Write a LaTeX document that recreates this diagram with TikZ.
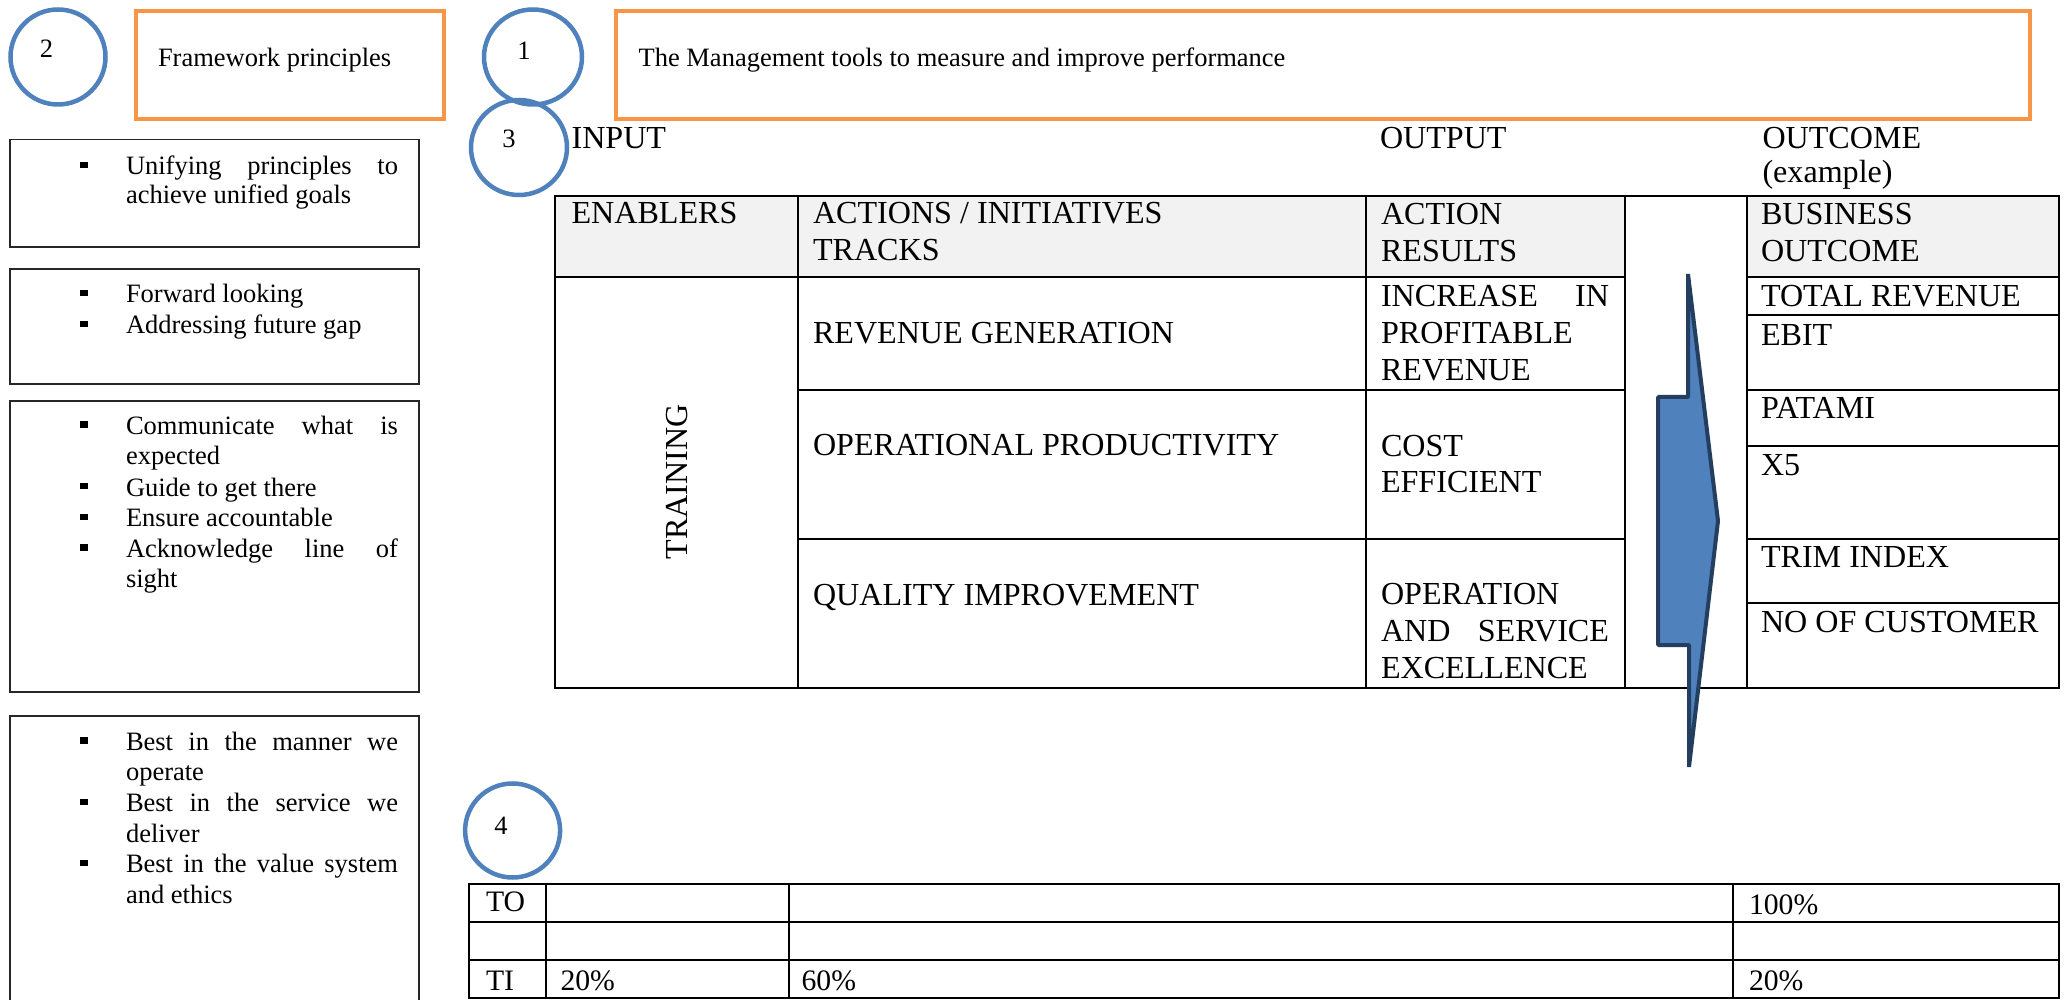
\documentclass[tikz,border=0pt]{standalone}
\usepackage{fontspec}
\setmainfont{Liberation Serif}
\usepackage{graphicx}
\definecolor{cblue}{RGB}{79,129,189}
\definecolor{corange}{RGB}{247,150,70}
\definecolor{cnavy}{RGB}{36,62,96}
\definecolor{cgray}{RGB}{242,242,242}
\newcommand\bsq[1]{\fill (80,#1-13) rectangle (88,#1-6.5);}
\begin{document}
\begin{tikzpicture}[x=0.5pt,y=-0.5pt,
  lfont/.style={font=\fontsize{13.25}{15.35}\selectfont},
  tfont/.style={font=\fontsize{16.05}{18.25}\selectfont},
  bfont/.style={font=\fontsize{14.85}{17}\selectfont},
  txt/.style={anchor=base west,inner sep=0pt,outer sep=0pt},
  ctxt/.style={anchor=base,inner sep=0pt,outer sep=0pt},
  ring/.style={draw=cblue,line width=2.25pt},
  obox/.style={draw=corange,line width=2.25pt},
  lbox/.style={draw=black!85,line width=0.75pt},
  grid/.style={draw=black,line width=1pt}]
\useasboundingbox (0,0) rectangle (2069,1000);
\fill[white] (0,0) rectangle (2069,1000);

% ---------- numbered circles ----------
\draw[ring] (58,57) ellipse [x radius=47.5, y radius=47.5];
\node[lfont,ctxt] (n2) at (46.5,58) {2};
\draw[ring] (533,57) ellipse [x radius=49, y radius=47.5];
\node[lfont,ctxt] (n1) at (524,60) {1};
\draw[ring] (519,147.5) ellipse [x radius=48, y radius=47.5];
\node[lfont,ctxt] (n3) at (509,148) {3};
\draw[ring] (512.6,830.5) ellipse [x radius=47.5, y radius=47];
\node[lfont,ctxt] (n4) at (501,834) {4};

% ---------- orange title boxes ----------
\draw[obox] (136,11) rectangle (444,119);
\node[lfont,txt] (fp) at (158,67) {Framework principles};
\draw[obox] (616,11) rectangle (2030,119);
\node[lfont,txt] (mt) at (638.6,67) {The Management tools to measure and improve performance};

% ---------- left principle boxes ----------
\draw[lbox] (10,139.5) rectangle (419,247);
\bsq{175}
\node[lfont,txt] (a1) at (126,175) {\makebox[136pt][s]{Unifying principles to}};
\node[lfont,txt] (a2) at (126,204) {achieve unified goals};

\draw[lbox] (10,269) rectangle (419,384);
\bsq{303}
\node[lfont,txt] (b1) at (126,303) {Forward looking};
\bsq{334}
\node[lfont,txt] (b2) at (126,334) {Addressing future gap};

\draw[lbox] (10,401) rectangle (419,692);
\bsq{434.3}
\node[lfont,txt] (c1) at (126,434.3) {\makebox[136pt][s]{Communicate what is}};
\node[lfont,txt] (c2) at (126,465) {expected};
\bsq{496}
\node[lfont,txt] (c3) at (126,496) {Guide to get there};
\bsq{526.5}
\node[lfont,txt] (c4) at (126,526.5) {Ensure accountable};
\bsq{557}
\node[lfont,txt] (c5) at (126,557) {\makebox[136pt][s]{Acknowledge line of}};
\node[lfont,txt] (c6) at (126,587.5) {sight};

\draw[lbox] (10,1010) -- (10,716) -- (419,716) -- (419,1010);
\bsq{750}
\node[lfont,txt] (d1) at (126,750) {\makebox[136pt][s]{Best in the manner we}};
\node[lfont,txt] (d2) at (126,780.5) {operate};
\bsq{811.5}
\node[lfont,txt] (d3) at (126,811.5) {\makebox[136pt][s]{Best in the service we}};
\node[lfont,txt] (d4) at (126,842) {deliver};
\bsq{872.5}
\node[lfont,txt] (d5) at (126,872.5) {\makebox[136pt][s]{Best in the value system}};
\node[lfont,txt] (d6) at (126,903) {and ethics};

% ---------- column headings ----------
\node[tfont,txt] (hin) at (571.6,148.3) {INPUT};
\node[tfont,txt] (hout) at (1380,148.3) {OUTPUT};
\node[tfont,txt] (hoc) at (1762.5,148.3) {OUTCOME};
\node[tfont,txt] (hex) at (1762.5,182.7) {(example)};

% ---------- main table ----------
\fill[cgray] (555,196) rectangle (1625,277);
\fill[cgray] (1747,196) rectangle (2059,277);
\draw[grid] (555,196) rectangle (2059,688);
\draw[grid] (797.5,196) -- (797.5,688);
\draw[grid] (1366,196) -- (1366,688);
\draw[grid] (1625,196) -- (1625,688);
\draw[grid] (1747,196) -- (1747,688);
\draw[grid] (555,277) -- (1625,277);
\draw[grid] (1747,277) -- (2059,277);
\draw[grid] (797.5,390) -- (1625,390);
\draw[grid] (797.5,539) -- (1625,539);
\draw[grid] (1747,315.5) -- (2059,315.5);
\draw[grid] (1747,390) -- (2059,390);
\draw[grid] (1747,446) -- (2059,446);
\draw[grid] (1747,539) -- (2059,539);
\draw[grid] (1747,603) -- (2059,603);

\node[tfont,txt] (t11) at (571.6,224) {ENABLERS};
\node[tfont,txt] (t12) at (813,224) {ACTIONS / INITIATIVES};
\node[tfont,txt] (t12b) at (813,260.7) {TRACKS};
\node[tfont,txt] (t13) at (1381,224.5) {ACTION};
\node[tfont,txt] (t13b) at (1381,261.2) {RESULTS};
\node[tfont,txt] (t14) at (1761,224.5) {BUSINESS};
\node[tfont,txt] (t14b) at (1761,261.2) {OUTCOME};

\node[tfont,rotate=90,inner sep=0pt] (train) at (677,482) {TRAINING};

\node[tfont,txt] (r1) at (813,344) {REVENUE GENERATION};
\node[tfont,txt] (r2) at (813,456) {OPERATIONAL PRODUCTIVITY};
\node[tfont,txt] (r3) at (813,605) {QUALITY IMPROVEMENT};

\node[tfont,txt] (o1) at (1381,307) {\makebox[114pt][s]{INCREASE IN}};
\node[tfont,txt] (o2) at (1381,343.8) {PROFITABLE};
\node[tfont,txt] (o3) at (1381,380.3) {REVENUE};
\node[tfont,txt] (o4) at (1381,456.3) {COST};
\node[tfont,txt] (o5) at (1381,493) {EFFICIENT};
\node[tfont,txt] (o6) at (1381,604.8) {OPERATION};
\node[tfont,txt] (o7) at (1381,641.5) {\makebox[114pt][s]{AND SERVICE}};
\node[tfont,txt] (o8) at (1381,678.2) {EXCELLENCE};

\node[tfont,txt] (k1) at (1761,306.3) {TOTAL REVENUE};
\node[tfont,txt] (k2) at (1761,345.3) {EBIT};
\node[tfont,txt] (k3) at (1761,418.4) {PATAMI};
\node[tfont,txt] (k4) at (1761,475.4) {X5};
\node[tfont,txt] (k5) at (1761,567.3) {TRIM INDEX};
\node[tfont,txt] (k6) at (1761,632.7) {NO OF CUSTOMER};

% ---------- blue arrow ----------
\draw[fill=cblue,draw=cnavy,line width=2pt,line join=bevel]
  (1688,274) -- (1718,521) -- (1689,767) -- (1689,645) -- (1658,645)
  -- (1658,397) -- (1688,397) -- cycle;

% ---------- bottom table ----------
\draw[grid] (468.7,884) rectangle (2059,997.7);
\draw[grid] (468.7,922) -- (2059,922);
\draw[grid] (468.7,960) -- (2059,960);
\draw[grid] (546.2,884) -- (546.2,997.7);
\draw[grid] (788.5,884) -- (788.5,997.7);
\draw[grid] (1733,884) -- (1733,997.7);
\node[bfont,txt] (q1) at (486,911.7) {TO};
\node[bfont,txt] (q2) at (1749,914) {100\%};
\node[bfont,txt] (q3) at (486,990) {TI};
\node[bfont,txt] (q4) at (560.5,990) {20\%};
\node[bfont,txt] (q5) at (801.6,990) {60\%};
\node[bfont,txt] (q6) at (1749,990) {20\%};
\end{tikzpicture}
\end{document}
